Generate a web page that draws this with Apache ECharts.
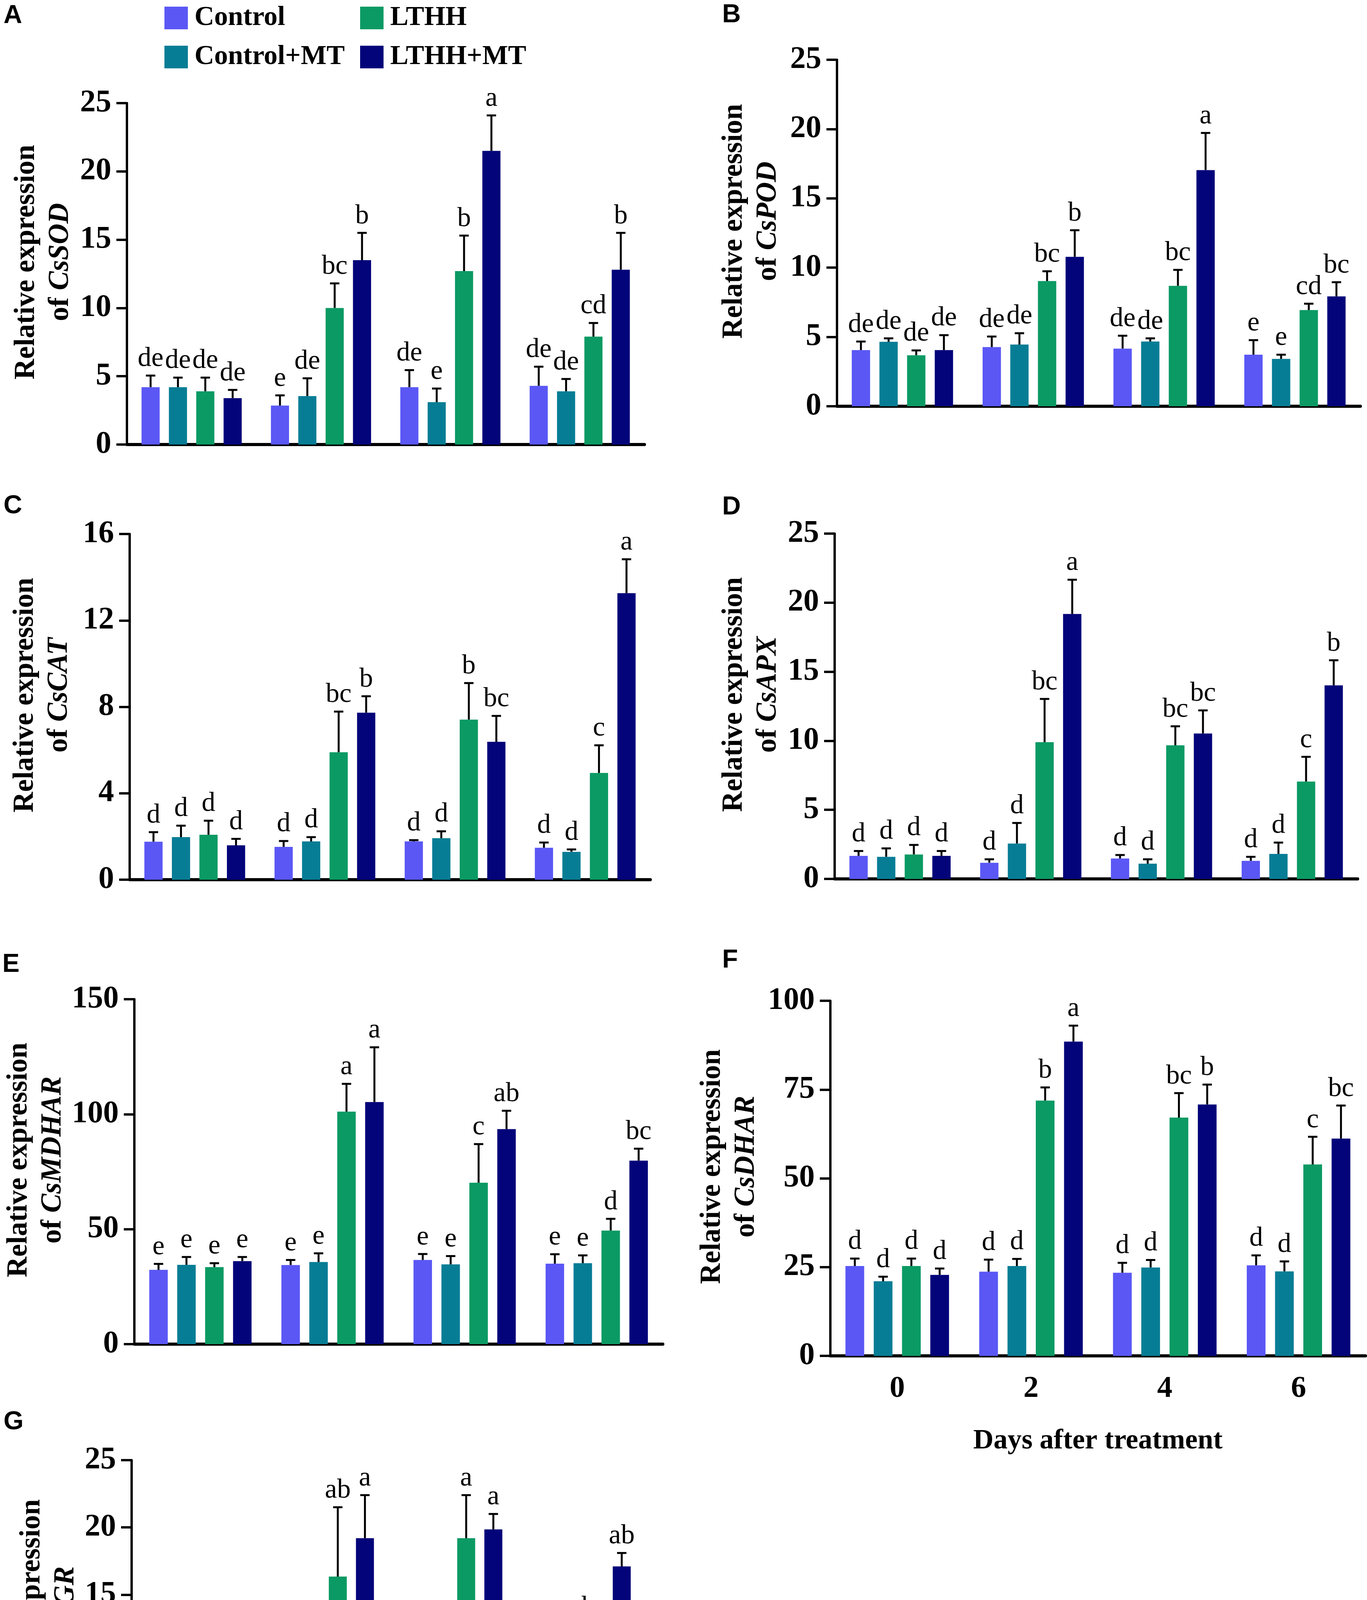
<!DOCTYPE html>
<html>
<head>
<meta charset="utf-8">
<title>Antioxidant gene expression</title>
<script src="https://cdn.jsdelivr.net/npm/echarts@6.0.0/dist/echarts.min.js"></script>
<style>
  html, body { margin: 0; padding: 0; background: #fff; }
  #chart { width: 3500px; height: 4850px; }
</style>
</head>
<body>
<div id="chart"></div>
<script>
var days = ['0', '2', '4', '6'];
var treatments = ['Control', 'Control+MT', 'LTHH', 'LTHH+MT'];
var colors = ['#5a57f5', '#077d95', '#0b9a64', '#03037a'];

// rows: Control, Control+MT, LTHH, LTHH+MT ; columns: day 0, 2, 4, 6
var sodMean = [[4.2, 2.85, 4.2, 4.3], [4.2, 3.55, 3.1, 3.9], [3.9, 10.0, 12.7, 7.9], [3.4, 13.5, 21.5, 12.8]];
var sodSd = [[0.85, 0.75, 1.25, 1.4], [0.7, 1.3, 1.0, 0.9], [1.0, 1.8, 2.6, 1.0], [0.6, 2.0, 2.6, 2.7]];
var sodLetters = [['de', 'e', 'de', 'de'], ['de', 'de', 'e', 'de'], ['de', 'bc', 'b', 'cd'], ['de', 'b', 'a', 'b']];

var podMean = [[4.05, 4.27, 4.16, 3.72], [4.65, 4.45, 4.67, 3.42], [3.68, 9.03, 8.69, 6.94], [4.05, 10.78, 17.04, 7.93]];
var podSd = [[0.62, 0.76, 0.93, 1.05], [0.25, 0.82, 0.23, 0.3], [0.35, 0.71, 1.15, 0.46], [1.08, 1.92, 2.68, 1.02]];
var podLetters = [['de', 'de', 'de', 'e'], ['de', 'de', 'de', 'e'], ['de', 'bc', 'bc', 'cd'], ['de', 'b', 'a', 'bc']];

var catMean = [[1.76, 1.52, 1.77, 1.48], [1.97, 1.77, 1.92, 1.29], [2.08, 5.9, 7.41, 4.94], [1.59, 7.73, 6.38, 13.26]];
var catSd = [[0.44, 0.27, 0.06, 0.24], [0.53, 0.2, 0.32, 0.11], [0.65, 1.88, 1.69, 1.28], [0.3, 0.76, 1.2, 1.57]];
var catLetters = [['d', 'd', 'd', 'd'], ['d', 'd', 'd', 'd'], ['d', 'bc', 'b', 'c'], ['d', 'b', 'bc', 'a']];

var apxMean = [[1.67, 1.17, 1.48, 1.31], [1.6, 2.56, 1.1, 1.81], [1.77, 9.9, 9.67, 7.05], [1.67, 19.18, 10.53, 14.01]];
var apxSd = [[0.35, 0.25, 0.25, 0.29], [0.61, 1.49, 0.32, 0.82], [0.69, 3.13, 1.38, 1.79], [0.35, 2.48, 1.67, 1.82]];
var apxLetters = [['d', 'd', 'd', 'd'], ['d', 'd', 'd', 'd'], ['d', 'bc', 'bc', 'c'], ['d', 'a', 'bc', 'b']];

var mdharMean = [[32.3, 34.4, 36.6, 35.0], [34.5, 35.7, 34.7, 35.2], [33.5, 101.1, 70.2, 49.4], [36.1, 105.3, 93.5, 79.8]];
var mdharSd = [[2.6, 2.2, 2.6, 4.1], [3.4, 3.8, 3.6, 3.4], [1.7, 12.1, 16.8, 5.1], [1.8, 23.8, 8.0, 5.2]];
var mdharLetters = [['e', 'e', 'e', 'e'], ['e', 'e', 'e', 'e'], ['e', 'a', 'c', 'd'], ['e', 'a', 'ab', 'bc']];

var dharMean = [[25.3, 23.7, 23.4, 25.5], [21.0, 25.3, 24.9, 23.8], [25.3, 71.9, 67.1, 53.9], [22.8, 88.5, 70.8, 61.2]];
var dharSd = [[2.1, 3.4, 2.8, 2.8], [1.3, 2.0, 2.1, 2.8], [2.1, 3.7, 6.9, 7.8], [1.8, 4.5, 5.6, 9.3]];
var dharLetters = [['d', 'd', 'd', 'd'], ['d', 'd', 'd', 'd'], ['d', 'b', 'bc', 'c'], ['d', 'a', 'b', 'bc']];

var grMean = [[6.0, 6.4, 5.7, 6.0], [5.65, 6.4, 6.4, 6.05], [6.0, 16.35, 19.2, 11.15], [6.0, 19.2, 19.85, 17.1]];
var grSd = [[1.6, 1.4, 0.8, 0.8], [1.95, 1.0, 1.7, 1.55], [1.6, 5.15, 3.2, 1.65], [1.6, 3.2, 1.15, 1.0]];
var grLetters = [['c', 'c', 'c', 'c'], ['c', 'c', 'c', 'c'], ['c', 'ab', 'a', 'bc'], ['c', 'a', 'a', 'ab']];

var panels = [
  { tag: 'A', gene: 'CsSOD', mean: sodMean, sd: sodSd, letters: sodLetters, max: 25, step: 5 },
  { tag: 'B', gene: 'CsPOD', mean: podMean, sd: podSd, letters: podLetters, max: 25, step: 5 },
  { tag: 'C', gene: 'CsCAT', mean: catMean, sd: catSd, letters: catLetters, max: 16, step: 4 },
  { tag: 'D', gene: 'CsAPX', mean: apxMean, sd: apxSd, letters: apxLetters, max: 25, step: 5 },
  { tag: 'E', gene: 'CsMDHAR', mean: mdharMean, sd: mdharSd, letters: mdharLetters, max: 150, step: 50 },
  { tag: 'F', gene: 'CsDHAR', mean: dharMean, sd: dharSd, letters: dharLetters, max: 100, step: 25 },
  { tag: 'G', gene: 'CsGR', mean: grMean, sd: grSd, letters: grLetters, max: 25, step: 5 }
];

// layout in pixels: grid box, y-title gap, panel tag position, x labels
var layout = {
  A: { left: 325, top: 264, width: 1325, height: 874, nameGap: 126, tag: [9, 8] },
  B: { left: 2143, top: 153, width: 1340, height: 887, nameGap: 132, tag: [1849, 6] },
  C: { left: 332, top: 1367, width: 1333, height: 885, nameGap: 136, tag: [9, 1263] },
  D: { left: 2137, top: 1366, width: 1339, height: 884, nameGap: 126, tag: [1849, 1266] },
  E: { left: 344, top: 2558, width: 1353, height: 883, nameGap: 159, tag: [6, 2437] },
  F: { left: 2126, top: 2562, width: 1370, height: 909, nameGap: 171, tag: [1849, 2426], xLabels: true, xNameGap: 182 },
  G: { left: 337, top: 3738, width: 1315, height: 861, nameGap: 115, tag: [9, 3608], xLabels: true, xNameGap: 167 }
};

var SERIF = '"Liberation Serif", "Times New Roman", serif';
var BAR_FRAC = 0.14;
var GAP_FRAC = 0.51;

function errorBars(letters, k) {
  return function (params, api) {
    var i = api.value(0);
    var band = api.size([1, 0])[0];
    var dx = (k - 1.5) * band * BAR_FRAC * (1 + GAP_FRAC);
    var base = api.coord([i, api.value(1)]);
    var tip = api.coord([i, api.value(2)]);
    var x = base[0] + dx;
    return {
      type: 'group',
      children: [
        { type: 'line', shape: { x1: x, y1: base[1], x2: x, y2: tip[1] }, style: { stroke: '#000', lineWidth: 5 } },
        { type: 'line', shape: { x1: x - 12, y1: tip[1], x2: x + 12, y2: tip[1] }, style: { stroke: '#000', lineWidth: 5 } },
        {
          type: 'text', x: x, y: tip[1] - 8,
          style: {
            text: letters[k][params.dataIndex], fill: '#000', fontSize: 70,
            fontFamily: SERIF, align: 'center', verticalAlign: 'bottom'
          }
        }
      ]
    };
  };
}

var grids = [], xAxes = [], yAxes = [], series = [], graphics = [];

panels.forEach(function (p, g) {
  var L = layout[p.tag];
  grids.push({ left: L.left, top: L.top, width: L.width, height: L.height, containLabel: false });
  xAxes.push({
    type: 'category', gridIndex: g, data: days,
    axisLine: { lineStyle: { color: '#000', width: 8 } },
    axisTick: { alignWithLabel: true, length: 27, lineStyle: { color: '#000', width: 7 } },
    axisLabel: {
      show: !!L.xLabels, margin: 46, color: '#000', fontSize: 78,
      fontWeight: 'bold', fontFamily: SERIF
    },
    name: L.xLabels ? 'Days after treatment' : '',
    nameLocation: 'middle', nameGap: L.xNameGap || 0,
    nameTextStyle: { color: '#000', fontSize: 72, fontWeight: 'bold', fontFamily: SERIF }
  });
  yAxes.push({
    type: 'value', gridIndex: g, min: 0, max: p.max, interval: p.step,
    splitLine: { show: false },
    axisLine: { show: true, lineStyle: { color: '#000', width: 6 } },
    axisTick: { show: true, length: 27, lineStyle: { color: '#000', width: 6 } },
    axisLabel: { margin: 40, color: '#000', fontSize: 80, fontWeight: 'bold', fontFamily: SERIF },
    name: '{r|Relative expression}\n{r|of }{i|' + p.gene + '}',
    nameLocation: 'middle', nameGap: L.nameGap,
    nameTextStyle: {
      color: '#000', fontSize: 73, fontWeight: 'bold', fontFamily: SERIF,
      lineHeight: 87, padding: [0, 0, 0, 60],
      rich: {
        r: { fontSize: 73, fontWeight: 'bold', fontFamily: SERIF, lineHeight: 87, color: '#000' },
        i: { fontSize: 73, fontWeight: 'bold', fontStyle: 'italic', fontFamily: SERIF, lineHeight: 87, color: '#000' }
      }
    }
  });
  treatments.forEach(function (t, k) {
    series.push({
      name: t, type: 'bar', xAxisIndex: g, yAxisIndex: g,
      data: p.mean[k], barWidth: (BAR_FRAC * 100) + '%', barGap: (GAP_FRAC * 100) + '%',
      itemStyle: { color: colors[k] }, silent: true
    });
  });
  treatments.forEach(function (t, k) {
    series.push({
      name: t + ' SD', type: 'custom', xAxisIndex: g, yAxisIndex: g, z: 3, silent: true,
      data: days.map(function (d, i) { return [i, p.mean[k][i], p.mean[k][i] + p.sd[k][i]]; }),
      renderItem: errorBars(p.letters, k)
    });
  });
  graphics.push({
    type: 'text', left: L.tag[0], top: L.tag[1],
    style: { text: p.tag, fill: '#000', fontSize: 66, fontWeight: 'bold', fontFamily: '"Liberation Sans", Arial, sans-serif' }
  });
});

function legendItem(name, left, top) {
  return {
    data: [name], left: left, top: top, padding: 0, orient: 'horizontal',
    icon: 'rect', itemWidth: 60, itemHeight: 58, selectedMode: false,
    textStyle: { color: '#000', fontSize: 70, fontWeight: 'bold', fontFamily: SERIF, lineHeight: 58, padding: [0, 0, 0, 12] }
  };
}

var option = {
  animation: false,
  backgroundColor: '#fff',
  grid: grids,
  xAxis: xAxes,
  yAxis: yAxes,
  series: series,
  graphic: graphics,
  legend: [
    legendItem('Control', 421, 11),
    legendItem('Control+MT', 421, 111),
    legendItem('LTHH', 922, 11),
    legendItem('LTHH+MT', 922, 111)
  ]
};

var myChart = echarts.init(document.getElementById('chart'));
myChart.setOption(option, true);
</script>
</body>
</html>
